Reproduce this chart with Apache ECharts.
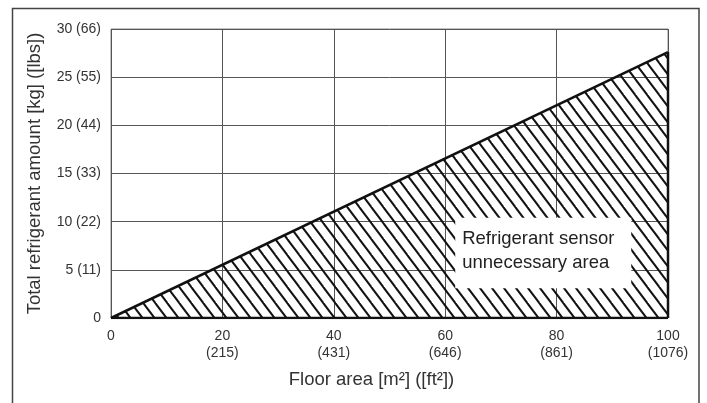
<!DOCTYPE html>
<html>
<head>
<meta charset="utf-8">
<script src="https://cdn.jsdelivr.net/npm/echarts@6/dist/echarts.min.js"></script>
<style>
html,body{margin:0;padding:0;background:#fff;}
#c{width:707px;height:403px;}
</style>
</head>
<body>
<div id="c"></div>
<script>
// ---- data ----
const areaX = [0, 100];          // floor area [m2]
const areaY = [0, 27.6];         // total refrigerant amount [kg]
const xTickLabels = ['0', '20\n(215)', '40\n(431)', '60\n(646)', '80\n(861)', '100\n(1076)'];
const yTickLabels = ['0', '5 (11)', '10 (22)', '15 (33)', '20 (44)', '25 (55)', '30 (66)'];
const noteLines = ['Refrigerant sensor', 'unnecessary area'];
const noteBoxX = [61.8, 93.4];
const noteBoxY = [3.1, 10.4];

// hatch pattern
function makeHatch() {
  const w = 12, h = 16;
  const c = document.createElement('canvas');
  c.width = w; c.height = h;
  const g = c.getContext('2d');
  g.strokeStyle = '#111';
  g.lineWidth = 2;
  g.lineCap = 'butt';
  for (const dx of [-w, 0, w]) {
    g.beginPath();
    g.moveTo(dx - w, -h);
    g.lineTo(dx + 2 * w, 2 * h);
    g.stroke();
  }
  return c;
}

const linePts = areaX.map((x, i) => [x, areaY[i]]);
const FONT = 'Liberation Sans, Arial, sans-serif';

const chart = echarts.init(document.getElementById('c'), null, {renderer: 'canvas'});
const option = {
  animation: false,
  backgroundColor: '#fff',
  grid: {left: 111, right: 39, top: 29, bottom: 85, show: true, borderColor: '#888', borderWidth: 1},
  xAxis: {
    type: 'value', min: 0, max: 100, interval: 20,
    axisLine: {show: false}, axisTick: {show: false},
    splitLine: {show: true, lineStyle: {color: '#555', width: 1}},
    axisLabel: {
      color: '#333', fontFamily: FONT, fontSize: 14, lineHeight: 17, margin: 10,
      formatter: v => xTickLabels[Math.round(v / 20)]
    },
    name: 'Floor area [m²] ([ft²])', nameLocation: 'middle', nameGap: 52,
    nameTextStyle: {color: '#333', fontFamily: FONT, fontSize: 18.5, padding: [0, 36, 0, 0]}
  },
  yAxis: {
    type: 'value', min: 0, max: 30, interval: 5,
    axisLine: {show: false}, axisTick: {show: false},
    splitLine: {show: true, lineStyle: {color: '#555', width: 1}},
    axisLabel: {
      color: '#333', fontFamily: FONT, fontSize: 14, margin: 10,
      formatter: v => yTickLabels[Math.round(v / 5)]
    },
    name: 'Total refrigerant amount [kg] ([lbs])', nameLocation: 'middle', nameGap: 67,
    nameTextStyle: {color: '#333', fontFamily: FONT, fontSize: 18.5}
  },
  series: [
    {
      type: 'line', data: linePts, symbol: 'none', z: 3,
      lineStyle: {color: '#111', width: 2.5},
      areaStyle: {color: {image: makeHatch(), repeat: 'repeat'}, opacity: 1}
    },
    {
      type: 'line', data: [[areaX[1], 0], [areaX[1], areaY[1]]], symbol: 'none', z: 4,
      lineStyle: {color: '#111', width: 2.5}
    },
    {
      type: 'line', data: [[areaX[0], 0], [areaX[1], 0]], symbol: 'none', z: 4,
      lineStyle: {color: '#111', width: 2.5}
    }
  ]
};
chart.setOption(option);

const p1 = chart.convertToPixel({gridIndex: 0}, [noteBoxX[0], noteBoxY[1]]);
const p2 = chart.convertToPixel({gridIndex: 0}, [noteBoxX[1], noteBoxY[0]]);
chart.setOption({
  graphic: [
    {type: 'rect', z: 0, silent: true,
      shape: {x: 12.5, y: 8.5, width: 686.5, height: 420},
      style: {fill: 'none', stroke: '#444', lineWidth: 1.5}},
    {type: 'rect', z: 10, silent: true,
      shape: {x: p1[0], y: p1[1], width: p2[0] - p1[0], height: p2[1] - p1[1]},
      style: {fill: '#fff', stroke: 'none'}},
    {type: 'text', z: 11, silent: true,
      x: p1[0] + 7, y: p1[1] + 21,
      style: {text: noteLines[0], fill: '#222', font: '18.5px ' + FONT, textVerticalAlign: 'middle'}},
    {type: 'text', z: 11, silent: true,
      x: p1[0] + 7, y: p1[1] + 45,
      style: {text: noteLines[1], fill: '#222', font: '18.5px ' + FONT, textVerticalAlign: 'middle'}}
  ]
});
</script>
</body>
</html>
